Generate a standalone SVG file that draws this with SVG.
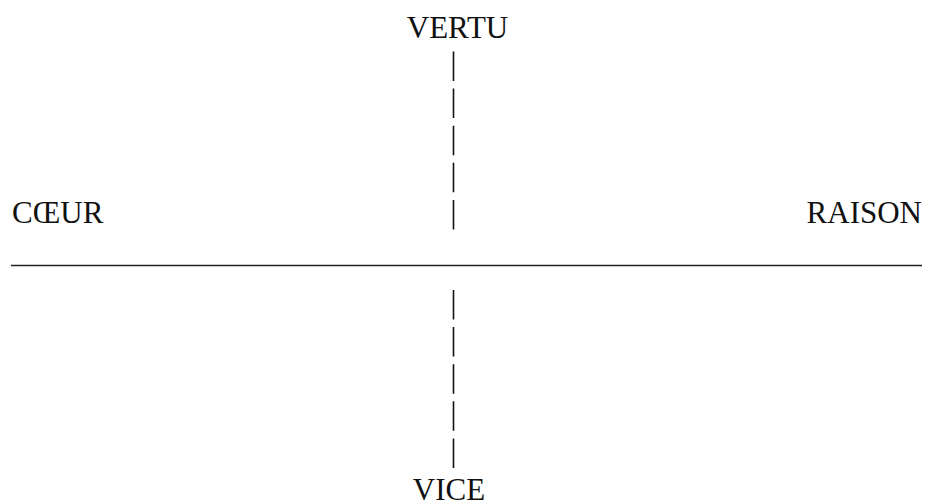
<svg xmlns="http://www.w3.org/2000/svg" width="927" height="503" viewBox="0 0 927 503">
<style>
text{font-family:'Liberation Serif','Times New Roman',Times,'DejaVu Serif',serif;font-size:31px;fill:#111}
.ax{stroke:#222;stroke-width:1.5;fill:none}
.dash{stroke:#111;stroke-width:1.6;fill:none;stroke-dasharray:29.5 7.6}
</style>
<rect width="927" height="503" fill="#fff"/>
<g id="connectors">
<line class="ax" x1="11" y1="265.5" x2="922" y2="265.5"/>
<line class="dash" x1="453.5" y1="51.5" x2="453.5" y2="229.5"/>
<line class="dash" x1="453.5" y1="290" x2="453.5" y2="468"/>
</g>
<g id="vertu"><text font-family="Liberation Serif, serif" x="457.5" y="37.5" text-anchor="middle">VERTU</text></g>
<g id="coeur"><text font-family="Liberation Serif, serif" x="12" y="223">CŒUR</text></g>
<g id="raison"><text font-family="Liberation Serif, serif" x="922" y="223" text-anchor="end">RAISON</text></g>
<g id="vice"><text font-family="Liberation Serif, serif" x="449" y="499.5" text-anchor="middle">VICE</text></g>
</svg>
